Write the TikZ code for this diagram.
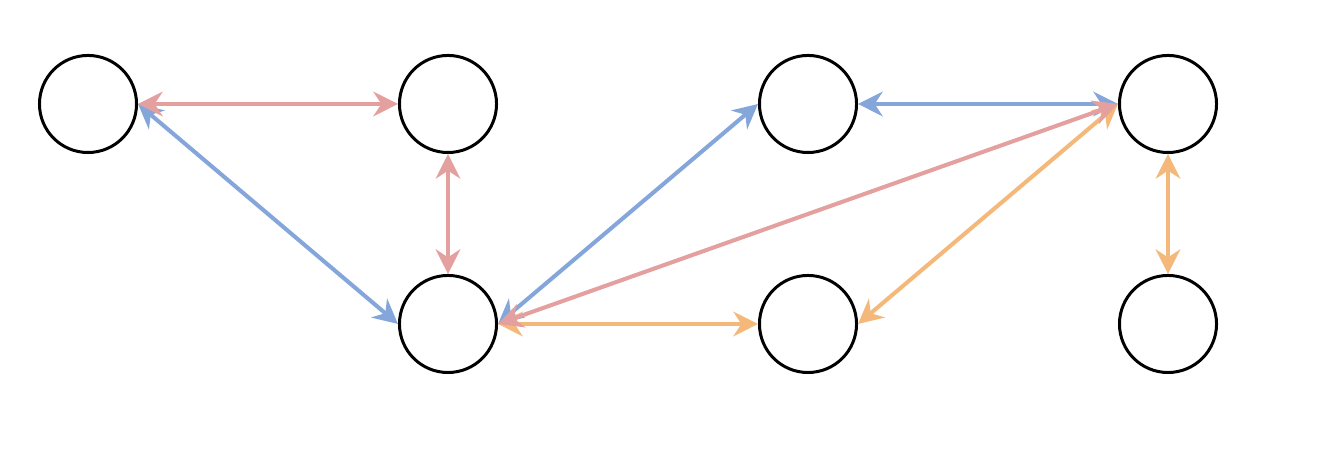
\documentclass[tikz,border=0pt]{standalone}
\usetikzlibrary{arrows.meta}
\definecolor{pk}{HTML}{E3A09E}
\definecolor{bl}{HTML}{85A6DA}
\definecolor{or}{HTML}{F4B97A}
\begin{document}
\begin{tikzpicture}[x=0.01cm,y=0.01cm,
  nd/.style={circle,draw=black,line width=0.85pt,minimum size=0.97cm,inner sep=0pt},
  lk/.style={line width=1.15pt,{Stealth[length=7pt,width=7pt]}-{Stealth[length=7pt,width=7pt]}}]
\useasboundingbox (0,0) rectangle (1336,468);
\node[nd] (a) at (88,364) {};
\node[nd] (b) at (448,364) {};
\node[nd] (c) at (808,364) {};
\node[nd] (d) at (1168,364) {};
\node[nd] (e) at (448,144) {};
\node[nd] (f) at (808,144) {};
\node[nd] (g) at (1168,144) {};
\draw[lk,bl] (a.east) -- (e.west);
\draw[lk,bl] (e.east) -- (c.west);
\draw[lk,bl] (c.east) -- (d.west);
\draw[lk,or] (e.east) -- (f.west);
\draw[lk,or] (d.west) -- (f.east);
\draw[lk,or] (d.south) -- (g.north);
\draw[lk,pk] (a.east) -- (b.west);
\draw[lk,pk] (b.south) -- (e.north);
\draw[lk,pk] (e.east) -- (d.west);
\end{tikzpicture}
\end{document}
